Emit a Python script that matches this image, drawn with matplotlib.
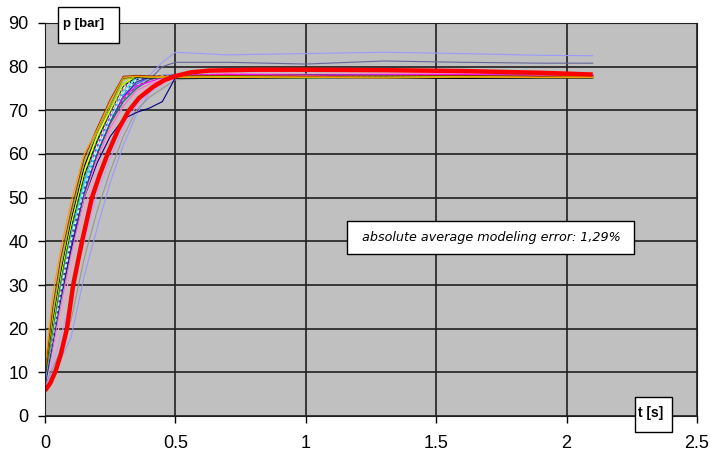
import matplotlib.pyplot as plt
from matplotlib.patches import Rectangle

# measurement grid for the thin curves [s]
t = [0, 0.03, 0.06, 0.1, 0.15, 0.2, 0.25, 0.3, 0.35, 0.4, 0.45, 0.5, 0.7, 1.0, 1.3, 1.6, 1.9, 2.1]

# measured pressure curves [bar]
p_orange = [11, 28, 38, 49, 60, 65.5, 72, 77.5, 77.8, 77.6, 77.7, 77.6, 77.5, 77.6, 77.4, 77.6, 77.5, 77.5]
p_maroon = [10, 25, 36, 47, 59, 66, 72.5, 77.8, 78, 77.9, 77.8, 77.9, 78, 77.8, 77.9, 78, 77.8, 77.9]
p_black = [9, 22, 33, 45, 57, 65, 71, 77.4, 77.5, 77.4, 77.5, 77.4, 77.3, 77.5, 77.4, 77.3, 77.4, 77.4]
p_green = [9, 20, 31, 43, 55, 63, 70, 76, 77.5, 77.6, 77.5, 77.4, 77.5, 77.4, 77.6, 77.5, 77.4, 77.5]
p_magenta = [8, 19, 30, 42, 54, 62, 68.5, 73, 75.5, 76.5, 77.5, 78, 78.2, 78, 78.1, 78.2, 78, 78.1]
p_cyan = [10, 21, 31, 42, 53, 61, 68, 74, 77.5, 77.8, 77.7, 77.8, 77.6, 77.7, 77.8, 77.6, 77.7, 77.6]
p_blue = [7, 17, 28, 40, 52, 61, 68, 74, 77, 77.8, 78, 77.9, 78, 77.8, 78, 77.9, 77.8, 77.9]
p_navy = [8, 17, 27, 38, 50, 58, 64, 68, 69.5, 70.5, 72, 77.5, 78, 77.8, 77.9, 77.8, 77.9, 77.8]
p_yellow = [9, 21, 32, 44, 56, 64, 70, 76, 77.8, 77.7, 77.8, 77.6, 77.7, 77.8, 77.6, 77.7, 77.8, 77.7]
p_purple = [8, 18, 29, 41, 53, 62, 69, 75, 77.5, 77.8, 77.9, 78, 77.9, 78.1, 78, 77.9, 78, 78]
p_teal = [7, 16, 26, 38, 51, 60, 67, 72, 75, 77, 77.8, 78, 77.8, 77.9, 77.7, 77.8, 77.9, 77.8]
p_pink = [7, 14, 22, 34, 47, 57, 65, 71, 74, 75, 76, 77.5, 78.5, 78.3, 78.4, 78.5, 78.3, 78.4]
p_lilac = [8, 12, 18, 27, 40, 51, 59, 66, 71, 74, 76, 77.5, 78.2, 78, 78.1, 78.2, 78, 78]
p_lightblue = [7, 10, 13, 18, 32, 43, 53.5, 62, 69, 74, 76.5, 77.5, 77.8, 77.6, 77.7, 77.8, 77.6, 77.7]
p_gray = [7, 11, 15, 22, 36, 47, 56, 64, 70, 73, 75, 77, 77.6, 77.5, 77.6, 77.4, 77.5, 77.5]
p_white = [9, 19, 29, 41, 53, 62, 69, 75, 77.6, 77.7, 77.6, 77.7, 77.8, 77.6, 77.7, 77.8, 77.6, 77.7]
p_top = [8, 18, 28, 40, 52, 61, 68, 73, 76, 78, 81, 83.3, 82.7, 83, 83.3, 83, 82.6, 82.5]
p_slate = [8, 17, 27, 39, 51, 60, 67, 72, 75, 77, 80, 81, 81, 80.6, 81.3, 81, 80.8, 80.8]
p_turq = [8, 19, 30, 42, 54, 63, 70, 76, 77.6, 77.5, 77.6, 77.5, 77.4, 77.6, 77.5, 77.4, 77.5, 77.6]
p_royal = [9, 20, 30, 41, 52, 61, 68, 73.5, 76, 77.5, 78, 78.1, 78, 78.2, 78.1, 78, 78.1, 78]
p_lime = [10, 23, 34, 46, 58, 65, 71, 77, 77.7, 77.6, 77.5, 77.6, 77.7, 77.5, 77.6, 77.7, 77.5, 77.6]
p_rose = [8, 16, 25, 37, 50, 59, 66, 71, 74.5, 76, 77, 78, 78.4, 78.2, 78.3, 78.4, 78.2, 78.3]
p_dkgreen = [9, 21, 32, 43, 55, 63, 69.5, 75.5, 77.6, 77.5, 77.6, 77.7, 77.5, 77.6, 77.7, 77.5, 77.6, 77.5]
p_plum = [8, 18, 28, 40, 52, 60, 67, 72.5, 75.5, 77, 77.8, 78.2, 78.1, 78.2, 78, 78.1, 78.2, 78.1]
p_indigo = [7, 17, 27, 39, 51, 60, 67.5, 73, 76.5, 77.6, 77.9, 78, 77.9, 78, 77.9, 78, 77.9, 78]
p_pale = [9, 18, 28, 40, 52, 61, 68, 74, 77, 77.8, 77.9, 77.8, 77.9, 77.7, 77.8, 77.9, 77.7, 77.8]

curves = [
    (p_lightblue, '#9999FF', '-'), (p_gray, '#969696', '-'), (p_lilac, '#CC99FF', '-'),
    (p_pink, '#FF99CC', '-'), (p_top, '#9999FF', '-'), (p_slate, '#666699', '-'),
    (p_teal, '#008080', '-'), (p_navy, '#000080', '-'), (p_rose, '#FF66CC', '-'),
    (p_blue, '#0000FF', '--'), (p_royal, '#3366FF', '-'), (p_purple, '#800080', '--'),
    (p_indigo, '#333399', '-'), (p_plum, '#993366', '--'),
    (p_magenta, '#FF00FF', '-'), (p_white, '#FFFFFF', '--'), (p_cyan, '#00FFFF', '-'),
    (p_pale, '#CCFFFF', '--'),
    (p_turq, '#33CCCC', '-'), (p_green, '#008000', '-'), (p_dkgreen, '#003300', '--'),
    (p_yellow, '#FFFF00', '-'),
    (p_black, '#000000', '-'), (p_lime, '#99CC00', '-'), (p_maroon, '#993300', '-'),
    (p_orange, '#FF9900', '-'),
]

# model curve
t_model = [0, 0.02, 0.04, 0.06, 0.084, 0.108, 0.142, 0.18, 0.21, 0.24, 0.28, 0.32, 0.36, 0.415, 0.46, 0.51, 0.56, 0.63, 0.8, 1.0, 1.3, 1.6, 1.9, 2.1]
p_model = [5.8, 7.5, 10.2, 14, 20, 30, 40, 50, 55.3, 60, 65.5, 69.8, 72.8, 75.4, 77, 78, 78.7, 79.1, 79.3, 79.3, 79.2, 79, 78.6, 78.2]

plt.rcParams['font.family'] = ['Liberation Sans', 'DejaVu Sans']

fig = plt.figure(figsize=(7.1, 4.53), dpi=100)
ax = fig.add_axes([45 / 710, 1 - 416 / 453, 652 / 710, 393 / 453])
ax.set_facecolor('#C0C0C0')

for vals, col, ls in curves:
    ax.plot(t, vals, color=col, lw=0.8, ls=ls, dashes=(3, 2) if ls == '--' else (None, None))
ax.plot(t_model, p_model, color='#FF0000', lw=3.2, solid_capstyle='butt')

ax.set_xlim(0, 2.5)
ax.set_ylim(0, 90)
ax.set_xticks([0, 0.5, 1, 1.5, 2, 2.5])
ax.set_xticklabels(['0', '0.5', '1', '1.5', '2', '2.5'])
ax.set_yticks(range(0, 91, 10))
ax.grid(True, color='#202020', lw=1.2)
ax.set_axisbelow(True)
ax.tick_params(labelsize=13, length=5, width=1)
ax.tick_params(axis='x', pad=9)
ax.tick_params(axis='y', pad=7)
for s in ax.spines.values():
    s.set_color('#202020')

# label boxes
fig.patches.append(Rectangle((58 / 710, 1 - 43 / 453), 61 / 710, 36 / 453,
                             transform=fig.transFigure, facecolor='white',
                             edgecolor='black', lw=1))
fig.text(84 / 710, 1 - 24 / 453, 'p [bar]', ha='center', va='center',
         fontsize=9.5, fontweight='bold')
fig.patches.append(Rectangle((635 / 710, 1 - 432 / 453), 37 / 710, 35 / 453,
                             transform=fig.transFigure, facecolor='white',
                             edgecolor='black', lw=1, zorder=5))
fig.text(651 / 710, 1 - 413 / 453, 't [s]', ha='center', va='center',
         fontsize=10, fontweight='bold', zorder=6)
fig.patches.append(Rectangle((347 / 710, 1 - 254 / 453), 287 / 710, 33 / 453,
                             transform=fig.transFigure, facecolor='white',
                             edgecolor='black', lw=1, zorder=5))
fig.text(491 / 710, 1 - 238 / 453, 'absolute average modeling error: 1,29%',
         ha='center', va='center', fontsize=9.2, style='italic',
         family='DejaVu Sans', zorder=6)

fig.savefig('out.png', dpi=100)
